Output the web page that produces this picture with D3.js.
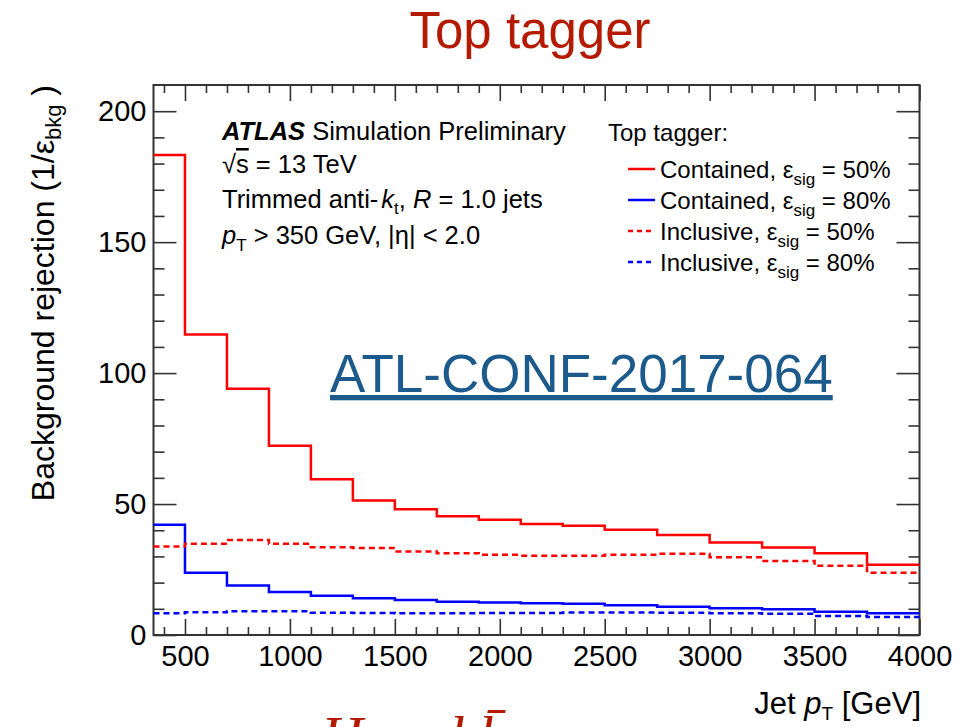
<!DOCTYPE html>
<html>
<head>
<meta charset="utf-8">
<script src="https://cdn.jsdelivr.net/npm/d3@7"></script>
<style>
  body { margin: 0; background: #fff; }
  svg { display: block; font-family: "Liberation Sans", Arial, Helvetica, sans-serif; }
  .axis text { font-size: 29px; fill: #000; }
  .axis line { stroke: #333; stroke-width: 1.6; }
  .axis path { display: none; }
</style>
</head>
<body>
<svg id="chart" width="966" height="727"></svg>
<script>
// bin edges of the jet pT histograms (GeV)
var binEdges = [350, 500, 700, 900, 1100, 1300, 1500, 1700, 1900, 2100, 2300, 2500, 2750, 3000, 3250, 3500, 3750, 4000];

// background rejection per bin
var containedSig50 = [183.3, 114.7, 94.0, 72.3, 59.5, 51.4, 48.0, 45.3, 44.0, 42.4, 41.7, 40.2, 38.2, 35.3, 33.4, 31.2, 26.8];
var containedSig80 = [42.1, 23.8, 18.9, 16.4, 15.0, 14.0, 13.4, 12.7, 12.4, 12.1, 11.9, 11.4, 10.8, 10.2, 9.8, 8.9, 8.3];
var inclusiveSig50 = [33.8, 34.8, 36.3, 34.8, 33.5, 33.2, 31.9, 31.2, 30.6, 30.3, 30.3, 30.6, 31.0, 29.7, 28.3, 26.4, 23.8];
var inclusiveSig80 = [8.3, 8.7, 9.1, 9.1, 8.5, 8.4, 8.3, 8.3, 8.4, 8.4, 8.6, 8.6, 8.5, 8.3, 8.1, 7.3, 6.9];

var xMajorTicks = [500, 1000, 1500, 2000, 2500, 3000, 3500, 4000];
var yMajorTicks = [0, 50, 100, 150, 200];

var legendNames = ["Contained,", "Contained,", "Inclusive,", "Inclusive,"];
var legendEff = ["50%", "80%", "50%", "80%"];

var series = [
    {values: containedSig50, color: "#ff0000", dash: null},
    {values: containedSig80, color: "#0000ff", dash: null},
    {values: inclusiveSig50, color: "#ff0000", dash: "6,4"},
    {values: inclusiveSig80, color: "#0000ff", dash: "6,4"}
];

var margin = {top: 85, right: 46.5, bottom: 92, left: 153.5};
var width = 966 - margin.left - margin.right;
var height = 727 - margin.top - margin.bottom;

var svg = d3.select("#chart");

var xScale = d3.scaleLinear().domain([350, 4000]).range([0, width]);
var yScale = d3.scaleLinear().domain([0, 210]).range([height, 0]);

var main = svg.append("g")
    .attr("transform", "translate(" + margin.left + "," + margin.top + ")");

// minor tick positions
var xMinor = d3.range(400, 4000, 100).filter(function (v) { return v % 500 !== 0; });
var yMinor = d3.range(10, 210, 10).filter(function (v) { return v % 50 !== 0; });

function _axis(gen, scale, values, size, fmt) {
    return gen(scale).tickValues(values).tickSize(size).tickPadding(10).tickFormat(fmt);
}

// bottom + top
main.append("g").attr("class", "axis").attr("transform", "translate(0," + height + ")")
    .call(_axis(d3.axisBottom, xScale, xMajorTicks, -16, d3.format("d")));
main.append("g").attr("class", "axis").attr("transform", "translate(0," + height + ")")
    .call(_axis(d3.axisBottom, xScale, xMinor, -8, ""));
main.append("g").attr("class", "axis")
    .call(_axis(d3.axisTop, xScale, xMajorTicks, -16, ""));
main.append("g").attr("class", "axis")
    .call(_axis(d3.axisTop, xScale, xMinor, -8, ""));

// left + right
main.append("g").attr("class", "axis")
    .call(_axis(d3.axisLeft, yScale, yMajorTicks, -23, d3.format("d")).tickPadding(7));
main.append("g").attr("class", "axis")
    .call(_axis(d3.axisLeft, yScale, yMinor, -11, ""));
main.append("g").attr("class", "axis").attr("transform", "translate(" + width + ",0)")
    .call(_axis(d3.axisRight, yScale, yMajorTicks, -23, ""));
main.append("g").attr("class", "axis").attr("transform", "translate(" + width + ",0)")
    .call(_axis(d3.axisRight, yScale, yMinor, -11, ""));

// frame
main.append("rect")
    .attr("width", width).attr("height", height)
    .attr("fill", "none").attr("stroke", "#333").attr("stroke-width", 2);

// histograms
var stepLine = d3.line()
    .x(function (d) { return xScale(d[0]); })
    .y(function (d) { return yScale(d[1]); })
    .curve(d3.curveStepAfter);

series.forEach(function (s) {
    var pts = s.values.map(function (v, i) { return [binEdges[i], v]; });
    pts.push([binEdges[binEdges.length - 1], s.values[s.values.length - 1]]);
    main.append("path")
        .datum(pts)
        .attr("d", stepLine)
        .attr("fill", "none")
        .attr("stroke", s.color)
        .attr("stroke-width", 2.5)
        .attr("stroke-dasharray", s.dash);
});

// title
svg.append("text").attr("x", 530).attr("y", 48).attr("text-anchor", "middle")
    .attr("font-size", 51).attr("fill", "#b41a00").text("Top tagger");

// ATLAS label block
var lab = svg.append("g").attr("font-size", 25.5).attr("fill", "#000");
var t1 = lab.append("text").attr("x", 222).attr("y", 140);
t1.append("tspan").attr("font-weight", "bold").attr("font-style", "italic").text("ATLAS");
t1.append("tspan").text(" Simulation Preliminary");

var t2 = lab.append("text").attr("x", 222).attr("y", 173);
t2.append("tspan").text("\u221A");
t2.append("tspan").style("text-decoration", "overline").text("s");
t2.append("tspan").text(" = 13 TeV");

var t3 = lab.append("text").attr("x", 222).attr("y", 208);
t3.append("tspan").text("Trimmed anti-");
t3.append("tspan").attr("font-style", "italic").attr("dx", 3).text("k");
t3.append("tspan").attr("font-size", 17).attr("dy", 6).text("t");
t3.append("tspan").attr("dy", -6).text(", ");
t3.append("tspan").attr("font-style", "italic").text("R");
t3.append("tspan").text(" = 1.0 jets");

var t4 = lab.append("text").attr("x", 222).attr("y", 244);
t4.append("tspan").attr("font-style", "italic").text("p");
t4.append("tspan").attr("font-size", 17).attr("dy", 7).text("T");
t4.append("tspan").attr("dy", -7).text(" > 350 GeV, |\u03B7| < 2.0");

// legend
var leg = svg.append("g").attr("font-size", 24).attr("fill", "#000");
leg.append("text").attr("x", 608).attr("y", 141).text("Top tagger:");
var rowY = [169, 200, 231, 262];
series.forEach(function (s, i) {
    leg.append("line")
        .attr("x1", 628).attr("x2", 655).attr("y1", rowY[i]).attr("y2", rowY[i])
        .attr("stroke", s.color).attr("stroke-width", 2.5)
        .attr("stroke-dasharray", s.dash ? "5,4" : null);
    var t = leg.append("text").attr("x", 660).attr("y", rowY[i] + 9);
    t.append("tspan").text(legendNames[i] + " \u03B5");
    t.append("tspan").attr("font-size", 17).attr("dy", 7).text("sig");
    t.append("tspan").attr("dy", -7).text(" = " + legendEff[i]);
});

// conference note link
svg.append("text").attr("x", 330).attr("y", 392)
    .attr("font-size", 53).attr("fill", "#1d5a8c")
    .style("text-decoration", "underline")
    .text("ATL-CONF-2017-064");

// axis titles
var xt = svg.append("text").attr("x", 921).attr("y", 714).attr("text-anchor", "end").attr("font-size", 31);
xt.append("tspan").text("Jet ");
xt.append("tspan").attr("font-style", "italic").text("p");
xt.append("tspan").attr("font-size", 19).attr("dy", 6).text("T");
xt.append("tspan").attr("dy", -6).text(" [GeV]");

var yt = svg.append("text").attr("transform", "translate(54,85) rotate(-90)")
    .attr("text-anchor", "end").attr("font-size", 32);
yt.append("tspan").text("Background rejection (1/\u03B5");
yt.append("tspan").attr("font-size", 22).attr("dy", 7).text("bkg");
yt.append("tspan").attr("dy", -7).text(" )");

// next slide heading, cut by the bottom edge (as in the original slide)
svg.append("text").attr("x", 321).attr("y", 756)
    .attr("font-family", "'Liberation Serif', 'DejaVu Serif', serif")
    .attr("font-style", "italic").attr("font-size", 58).attr("fill", "#b41a00")
    .attr("xml:space", "preserve")
    .text("H \u2192 bb\u0304");
</script>
</body>
</html>
